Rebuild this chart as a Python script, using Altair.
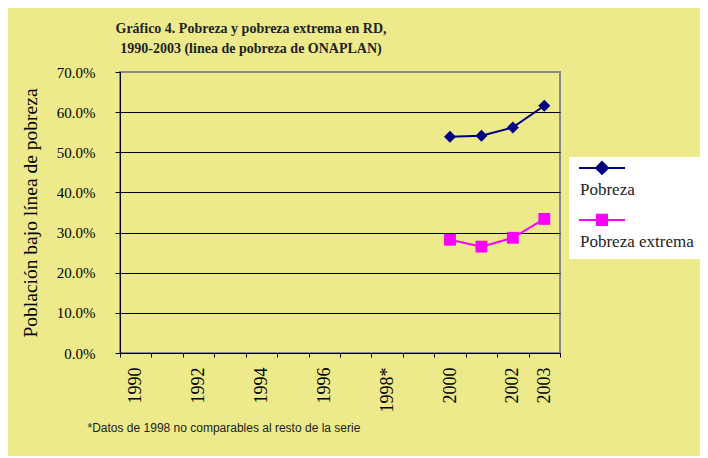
import altair as alt
import pandas as pd

# ---- data ----
categories = ["1990", "1991", "1992", "1993", "1994", "1995", "1996", "1997",
              "1998*", "1999", "2000", "2001", "2002", "2003"]
shown_labels = ["1990", "1992", "1994", "1996", "1998*", "2000", "2002", "2003"]
years = ["2000", "2001", "2002", "2003"]
pobreza = [0.539, 0.541, 0.562, 0.616]
pobreza_extrema = [0.282, 0.265, 0.287, 0.334]
series_names = ["Pobreza", "Pobreza extrema"]
series_colors = ["#000080", "#FF00FF"]
y_ticks = [0.0, 0.1, 0.2, 0.3, 0.4, 0.5, 0.6, 0.7]

# legend symbols: short line with marker, drawn above the label
legend_paths = [
    "M-1,-0.96L1,-0.96M0,-1.22L0.26,-0.96L0,-0.7L-0.26,-0.96Z",
    "M-1,-0.96L1,-0.96M-0.22,-1.18L0.22,-1.18L0.22,-0.74L-0.22,-0.74Z",
]

df = pd.DataFrame({
    "year": years + years,
    "value": pobreza + pobreza_extrema,
    "serie": [series_names[0]] * len(years) + [series_names[1]] * len(years),
})

BG = "#ECEA8A"
SERIF = "Liberation Serif"

label_expr = "indexof(" + str(shown_labels) + ", datum.value) >= 0 ? datum.value : ''"

leg = dict(
    title=None, orient="none", legendX=449, legendY=85, fillColor="white",
    padding=9, labelFont=SERIF, labelFontSize=17, labelColor="#222222",
    labelOffset={"expr": "-46"}, symbolSize=2116, symbolStrokeWidth=2,
    rowPadding=12, labelLimit=200,
)

x = alt.X(
    "year:N",
    scale=alt.Scale(type="band", domain=categories, paddingInner=0, paddingOuter=0),
    axis=alt.Axis(
        labelAngle=270, labelExpr=label_expr, labelFont=SERIF, labelFontSize=18,
        labelColor="black", labelPadding=10, tickBand="extent", tickSize=4,
        tickColor="black", domainColor="black", grid=False,
        titleFont="Liberation Sans", titleFontSize=12, titleFontWeight="normal",
        titleColor="#222222", titleAnchor="start", titleAlign="left",
        titleX=-33, titleY=78, titleBaseline="alphabetic",
    ),
    title="*Datos de 1998 no comparables al resto de la serie",
)
y = alt.Y(
    "value:Q",
    scale=alt.Scale(domain=[0, 0.7], nice=False),
    axis=alt.Axis(
        values=y_ticks, format=".1%", labelFont=SERIF, labelFontSize=15,
        labelColor="black", labelPadding=20, tickSize=5, tickColor="black",
        domainColor="black",
        gridColor={"condition": {"test": "datum.value >= 0.7", "value": "#888888"},
                   "value": "black"},
        gridOpacity=1,
        titleFont=SERIF, titleFontSize=19.5, titleFontWeight="normal",
        titleColor="black", titlePadding=16,
    ),
    title="Población bajo línea de pobreza",
)
color = alt.Color("serie:N", scale=alt.Scale(domain=series_names, range=series_colors),
                  legend=alt.Legend(**leg))

base = alt.Chart(df)
lines = base.mark_line(strokeWidth=2).encode(x=x, y=y, color=color)
diamonds = base.transform_filter(alt.datum.serie == series_names[0]).mark_point(
    shape="diamond", filled=True, size=144, opacity=1).encode(x=x, y=y, color=color)
squares = base.transform_filter(alt.datum.serie == series_names[1]).mark_point(
    shape="square", filled=True, size=140, opacity=1).encode(x=x, y=y, color=color)

legend_layer = base.mark_point(filled=True, opacity=1, size=0).encode(
    x=x, y=y,
    fill=alt.Fill("serie:N", scale=alt.Scale(domain=series_names, range=series_colors),
                  legend=alt.Legend(**leg)),
    stroke=alt.Stroke("serie:N", scale=alt.Scale(domain=series_names, range=series_colors),
                      legend=alt.Legend(**leg)),
    shape=alt.Shape("serie:N", scale=alt.Scale(domain=series_names, range=legend_paths),
                    legend=alt.Legend(**leg)),
)

chart = alt.layer(lines, diamonds, squares, legend_layer).properties(
    width=440, height=281,
    autosize=alt.AutoSizeParams(type="none"),
    padding={"left": 112, "top": 64, "right": 140, "bottom": 103},
    background=BG,
    title=alt.Title(
        ["Gráfico 4. Pobreza y pobreza extrema en RD,",
         "1990-2003 (linea de pobreza de ONAPLAN)"],
        font=SERIF, fontSize=14, fontWeight="bold", color="#222222",
        anchor="middle", frame="group", dx=-89, dy=24, offset=19, lineHeight=20,
        baseline="bottom",
    ),
).configure_view(stroke="#888888", strokeWidth=2)

chart.save("out.html", embed_options={"renderer": "svg", "actions": False})
